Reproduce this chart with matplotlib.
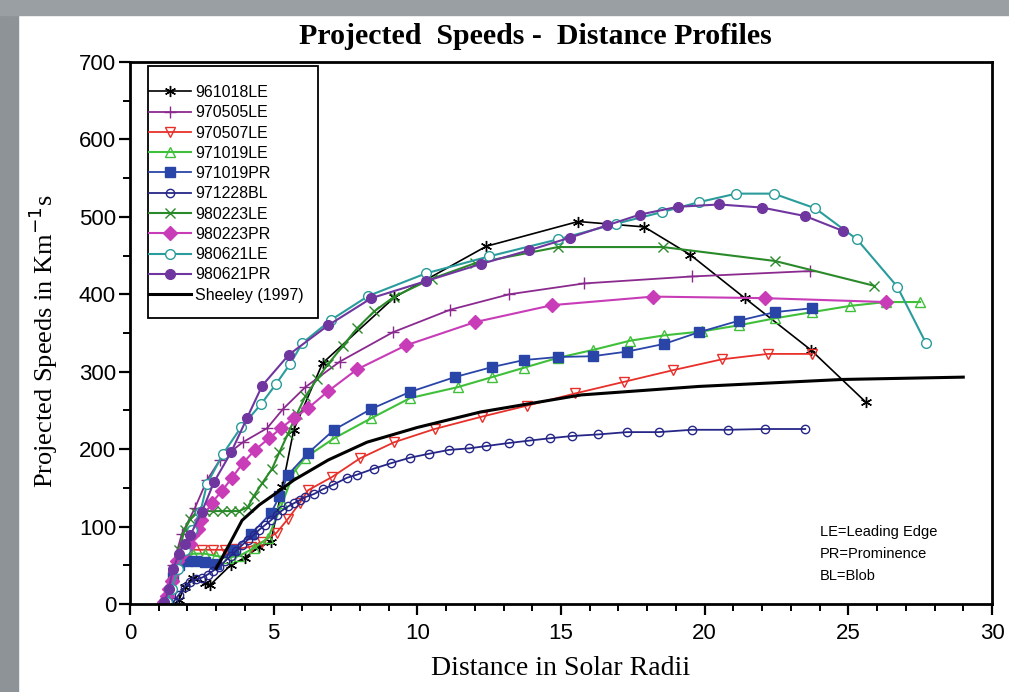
import matplotlib
matplotlib.use("Agg")
import matplotlib.pyplot as plt
from matplotlib.patches import Rectangle
from matplotlib.ticker import MultipleLocator

# distance (solar radii) / projected speed (km/s) per event
x_961018LE = [1.7, 1.9, 2.2, 2.6, 2.8, 3.5, 4.0, 4.5, 4.9, 5.3, 5.7, 6.7, 9.2, 12.4, 15.6, 17.9, 19.5, 21.4, 23.7, 25.6]
y_961018LE = [5, 22, 34, 27, 25, 50, 60, 74, 80, 151, 225, 311, 396, 462, 494, 487, 451, 395, 328, 261]

x_970505LE = [1.3, 1.5, 1.8, 2.26, 2.68, 3.13, 3.93, 4.77, 5.33, 6.1, 7.3, 9.15, 11.14, 13.2, 15.8, 19.55, 23.67]
y_970505LE = [10, 50, 90, 124, 160, 186, 209, 227, 252, 280, 313, 351, 380, 400, 414, 423, 430]

x_970507LE = [1.3, 1.5, 1.8, 2.1, 2.5, 2.9, 3.3, 3.7, 4.2, 4.6, 5.1, 5.5, 5.9, 6.2, 7.03, 8.0, 9.2, 10.6, 12.25, 13.8, 15.5, 17.2, 18.9, 20.6, 22.2, 23.74]
y_970507LE = [5, 40, 62, 70, 70, 70, 70, 71, 74, 80, 92, 110, 130, 147, 164, 188, 209, 226, 242, 256, 272, 287, 302, 316, 323, 323]

x_971019LE = [1.3, 1.5, 1.8, 2.2, 2.6, 3.0, 3.4, 3.8, 4.3, 4.8, 5.3, 5.7, 6.1, 7.1, 8.4, 9.75, 11.4, 12.6, 13.7, 14.9, 16.1, 17.4, 18.6, 19.9, 21.2, 22.45, 23.74, 25.06, 26.3, 27.5]
y_971019LE = [10, 45, 60, 65, 65, 62, 60, 62, 72, 85, 130, 170, 189, 214, 240, 266, 280, 293, 305, 318, 328, 340, 347, 352, 360, 369, 377, 385, 390, 390]

x_971019PR = [1.3, 1.5, 1.7, 2.0, 2.3, 2.6, 3.0, 3.6, 4.2, 4.9, 5.2, 5.5, 6.2, 7.1, 8.4, 9.75, 11.3, 12.6, 13.7, 14.9, 16.1, 17.3, 18.6, 19.8, 21.2, 22.45, 23.74]
y_971019PR = [5, 35, 50, 55, 55, 54, 52, 70, 90, 117, 139, 167, 195, 225, 252, 274, 293, 306, 315, 319, 320, 326, 336, 351, 366, 377, 382]

x_971228BL = [1.5, 1.7, 1.9, 2.1, 2.3, 2.5, 2.7, 2.9, 3.1, 3.3, 3.5, 3.7, 3.9, 4.1, 4.3, 4.5, 4.7, 4.9, 5.1, 5.3,
              5.5, 5.7, 5.9, 6.1, 6.4, 6.7, 7.07, 7.55, 7.9, 8.5, 9.1, 9.75, 10.4, 11.1, 11.8, 12.4, 13.2, 13.9,
              14.6, 15.4, 16.3, 17.3, 18.4, 19.55, 20.8, 22.1, 23.5]
y_971228BL = [2, 12, 22, 28, 32, 34, 38, 43, 48, 55, 62, 69, 76, 83, 89, 96, 102, 108, 115, 121,
              126, 130, 134, 138, 142, 148, 154, 163, 167, 175, 182, 189, 194, 199, 201, 204, 208, 211,
              214, 217, 219, 222, 222, 225, 225, 226, 226]

x_980223LE = [1.3, 1.5, 1.7, 1.9, 2.1, 2.3, 2.6, 2.9, 3.2, 3.5, 3.8, 4.1, 4.3, 4.6, 4.95, 5.2, 5.5, 5.8, 6.1, 6.5,
              6.9, 7.4, 7.9, 8.5, 9.2, 10.5, 12.0, 14.9, 18.55, 22.45, 25.9]
y_980223LE = [5, 40, 70, 95, 110, 118, 120, 120, 120, 120, 120, 125, 139, 156, 175, 196, 220, 245, 268, 290,
              310, 333, 356, 378, 397, 420, 440, 461, 461, 443, 411]

x_980223PR = [1.2, 1.3, 1.35, 1.45, 1.55, 1.65, 1.8, 1.95, 2.1, 2.15, 2.37, 2.47, 2.85, 3.2, 3.55, 3.93, 4.35, 4.84,
              5.25, 5.7, 6.2, 6.9, 7.9, 9.6, 12.0, 14.7, 18.2, 22.1, 26.3]
y_980223PR = [2, 10, 20, 30, 42, 55, 65, 72, 78, 89, 97, 108, 131, 146, 163, 182, 199, 214,
              227, 240, 253, 275, 303, 334, 364, 386, 397, 395, 390]

x_980621LE = [1.3, 1.45, 1.67, 1.9, 2.15, 2.45, 2.68, 3.24, 3.86, 4.56, 5.08, 5.57, 6.0, 7.0, 8.3, 10.3, 12.5, 14.9,
              16.9, 18.5, 19.8, 21.1, 22.4, 23.85, 25.3, 26.7, 27.7]
y_980621LE = [2, 20, 45, 70, 95, 119, 155, 194, 228, 258, 284, 310, 337, 367, 398, 427, 449, 471,
              491, 506, 519, 530, 530, 511, 471, 410, 337]

x_980621PR = [1.2, 1.35, 1.5, 1.7, 1.9, 2.1, 2.5, 2.93, 3.52, 4.07, 4.6, 5.53, 6.9, 8.4, 10.3, 12.2, 13.9, 15.3,
              16.6, 17.75, 19.07, 20.5, 22.0, 23.5, 24.8]
y_980621PR = [2, 20, 45, 65, 78, 89, 119, 158, 196, 240, 282, 322, 360, 395, 417, 439, 457, 473,
              489, 503, 513, 516, 512, 501, 482]

x_sheeley = [3.0, 3.5, 3.9, 4.5, 5.0, 5.7, 6.9, 8.25, 10.0, 12.2, 15.7, 19.8, 24.8, 29.0]
y_sheeley = [46, 80, 108, 128, 141, 160, 186, 209, 228, 248, 270, 281, 290, 293]

key_lines = ["LE=Leading Edge", "PR=Prominence", "BL=Blob"]

serif = ["Liberation Serif", "DejaVu Serif"]
sans = ["Liberation Sans", "DejaVu Sans"]

W, H = 1009, 692
fig = plt.figure(figsize=(W / 100, H / 100), dpi=100)
fig.patch.set_facecolor("white")
# grey border strips along the left and top edges
fig.patches.append(Rectangle((0, 0), 18 / W, 1, transform=fig.transFigure,
                             color="#8e9398", zorder=0))
fig.patches.append(Rectangle((0, 1 - 15 / H), 1, 15 / H, transform=fig.transFigure,
                             color="#9a9fa4", zorder=0))

ax = fig.add_axes([130 / W, 1 - 604 / H, 862 / W, 542 / H])

ms = 6
ax.plot(x_961018LE, y_961018LE, "-", color="black", lw=1.2, marker=(6, 2, 0), ms=8, mew=1.0, label="961018LE")
ax.plot(x_970505LE, y_970505LE, "-", color="#8b2a8e", lw=1.3, marker="+", ms=8, mew=1.0, label="970505LE")
ax.plot(x_970507LE, y_970507LE, "-", color="#e8302a", lw=1.3, marker="v", ms=ms + 1, mfc="none", mew=1.0, label="970507LE")
ax.plot(x_971019LE, y_971019LE, "-", color="#3fbf3a", lw=1.5, marker="^", ms=ms + 1, mfc="none", mew=1.0, label="971019LE")
ax.plot(x_971019PR, y_971019PR, "-", color="#2a45a8", lw=1.3, marker="s", ms=ms + 1, label="971019PR")
ax.plot(x_971228BL, y_971228BL, "-", color="#262688", lw=1.3, marker="o", ms=ms, mfc="none", mew=1.0, label="971228BL")
ax.plot(x_980223LE, y_980223LE, "-", color="#2a8a2a", lw=1.5, marker="x", ms=ms + 1, mew=1.0, label="980223LE")
ax.plot(x_980223PR, y_980223PR, "-", color="#c83cb8", lw=1.5, marker="D", ms=ms + 1, label="980223PR")
ax.plot(x_980621LE, y_980621LE, "-", color="#2a9c9c", lw=1.5, marker="o", ms=ms + 1, mfc="white", mew=1.0, label="980621LE")
ax.plot(x_980621PR, y_980621PR, "-", color="#7036a0", lw=1.5, marker="o", ms=ms + 1, label="980621PR")
ax.plot(x_sheeley, y_sheeley, "-", color="black", lw=2.2, label="Sheeley (1997)")

ax.set_xlim(0, 30)
ax.set_ylim(0, 700)
ax.xaxis.set_major_locator(MultipleLocator(5))
ax.xaxis.set_minor_locator(MultipleLocator(1))
ax.yaxis.set_major_locator(MultipleLocator(100))
ax.yaxis.set_minor_locator(MultipleLocator(50))
ax.tick_params(which="major", direction="out", length=8, width=1.6, labelsize=16)
ax.tick_params(axis="x", which="major", pad=6)
ax.tick_params(axis="y", which="major", pad=2)
ax.tick_params(which="minor", direction="out", length=5, width=1.4)
for lab in ax.get_xticklabels() + ax.get_yticklabels():
    lab.set_family(sans)
for sp in ax.spines.values():
    sp.set_linewidth(2.0)

fig.text(535 / W, 1 - 36 / H, "Projected  Speeds -  Distance Profiles", family=serif,
         fontweight="bold", fontsize=21.5, ha="center", va="center")
ax.set_xlabel("Distance in Solar Radii", family=serif, fontsize=20, labelpad=8)
ax.set_ylabel("Projected Speeds in Km$^{-1}$s", family=serif, fontsize=19)
ax.yaxis.set_label_coords((60 - 130) / 862, (604 - 341) / 542)

# legend entries without frame; the box is drawn separately
leg = ax.legend(loc="upper left", bbox_to_anchor=((149 - 130) / 862, (604 - 85) / 542),
                borderaxespad=0, borderpad=0, frameon=False,
                prop={"family": sans, "size": 11.5}, handlelength=2.6, handletextpad=0.3,
                labelspacing=0.33)
ax.add_patch(Rectangle(((148 - 130) / 862, (604 - 318) / 542), 170 / 862, 252 / 542,
                       transform=ax.transAxes, facecolor="white", edgecolor="black",
                       lw=1.3, zorder=4))
leg.set_zorder(5)

for i, txt in enumerate(key_lines):
    ax.text(24.0, 93 - i * 28.5, txt, family=sans, fontsize=10.5, va="center")

fig.savefig("out.png", dpi=100)
